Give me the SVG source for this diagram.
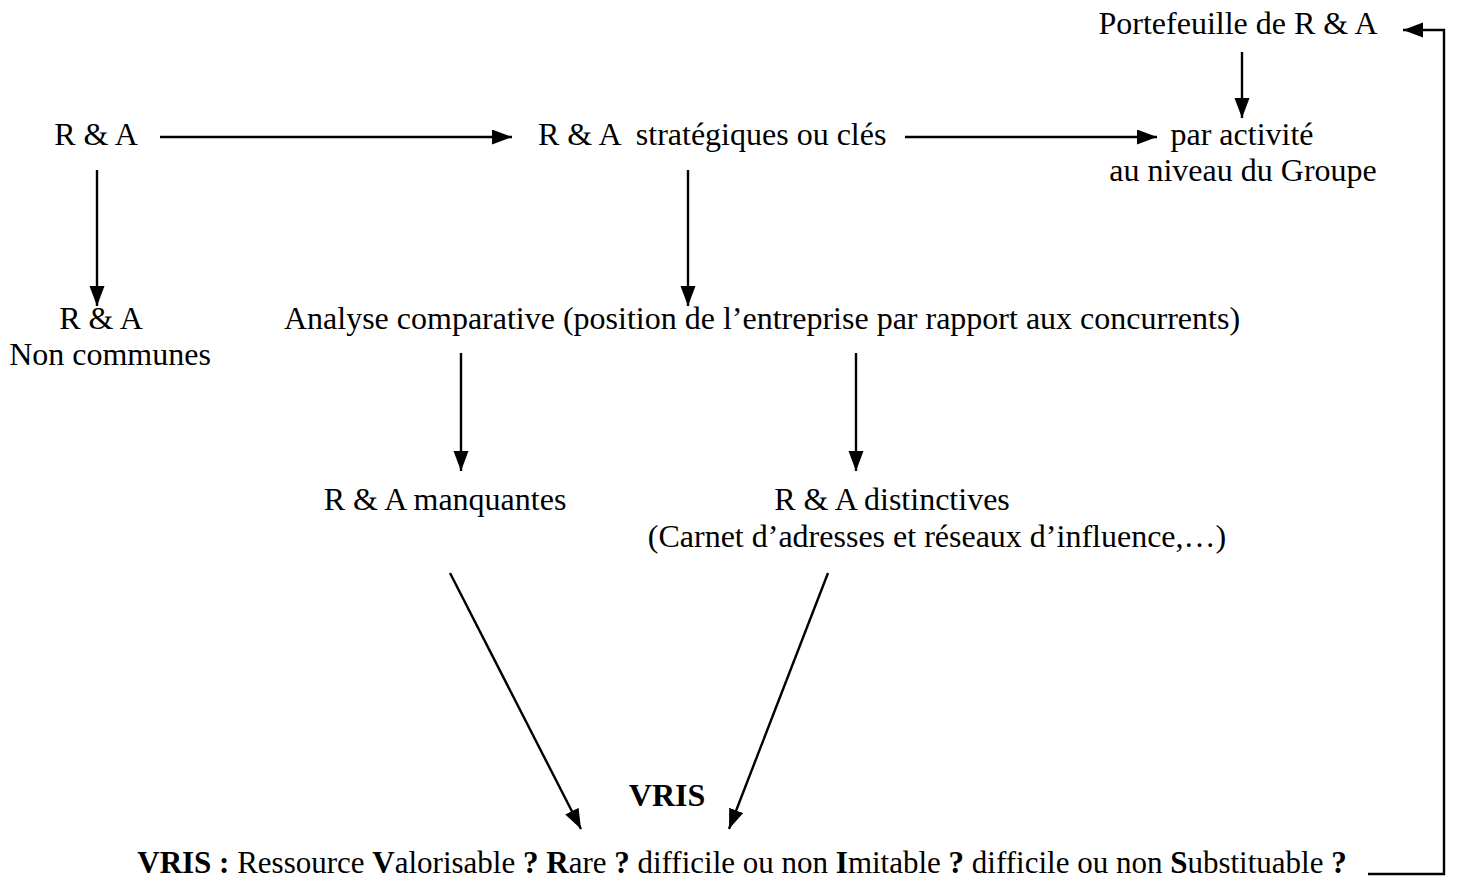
<svg xmlns="http://www.w3.org/2000/svg" width="1466" height="886" viewBox="0 0 1466 886">
  <style>
    text { font-family: "Liberation Serif", "Times New Roman", serif; font-size: 32px; fill: #000; white-space: pre; }
    .b { font-weight: bold; }
    .c { text-anchor: middle; }
    .legend { font-size: 31px; }
    .ln { stroke: #000; stroke-width: 2.4; fill: none; }
  </style>
  <defs>
    <marker id="head" markerUnits="userSpaceOnUse" markerWidth="22" markerHeight="16" refX="20" refY="7.5" orient="auto">
      <path d="M0,0 L20,7.5 L0,15 z" fill="#000"/>
    </marker>
  </defs>
  <rect width="1466" height="886" fill="#fff"/>

  <g id="portefeuille"><text x="1238" y="34" class="c">Portefeuille de R &amp; A</text></g>
  <g id="ra"><text x="96" y="145" class="c">R &amp; A</text></g>
  <g id="strategiques"><text x="538" y="145" xml:space="preserve">R &amp; A  stratégiques ou clés</text></g>
  <g id="activite">
    <text x="1242" y="145" class="c">par activité</text>
    <text x="1243" y="181" class="c">au niveau du Groupe</text>
  </g>
  <g id="non-communes">
    <text x="101" y="329" class="c">R &amp; A</text>
    <text x="110" y="365" class="c">Non communes</text>
  </g>
  <g id="analyse"><text x="762" y="329" class="c">Analyse comparative (position de l’entreprise par rapport aux concurrents)</text></g>
  <g id="manquantes"><text x="445" y="510" class="c">R &amp; A manquantes</text></g>
  <g id="distinctives">
    <text x="892" y="510" class="c">R &amp; A distinctives</text>
    <text x="937" y="547" class="c">(Carnet d’adresses et réseaux d’influence,…)</text>
  </g>
  <g id="vris"><text x="667" y="806" class="c b">VRIS</text></g>
  <g id="legende">
    <text x="742" y="873" class="c legend"><tspan class="b">VRIS :</tspan> Ressource <tspan class="b">V</tspan>alorisable <tspan class="b">?</tspan> <tspan class="b">R</tspan>are <tspan class="b">?</tspan> difficile ou non <tspan class="b">I</tspan>mitable <tspan class="b">?</tspan> difficile ou non <tspan class="b">S</tspan>ubstituable <tspan class="b">?</tspan></text>
  </g>

  <g id="connectors" class="ln">
    <line x1="160" y1="137" x2="512" y2="137" marker-end="url(#head)"/>
    <line x1="905" y1="137" x2="1157" y2="137" marker-end="url(#head)"/>
    <line x1="1242" y1="52" x2="1242" y2="118" marker-end="url(#head)"/>
    <line x1="97" y1="170" x2="97" y2="306" marker-end="url(#head)"/>
    <line x1="688" y1="170" x2="688" y2="306" marker-end="url(#head)"/>
    <line x1="461" y1="353" x2="461" y2="471" marker-end="url(#head)"/>
    <line x1="856" y1="353" x2="856" y2="471" marker-end="url(#head)"/>
    <line x1="450" y1="573" x2="581" y2="829" marker-end="url(#head)"/>
    <line x1="828" y1="573" x2="729" y2="829" marker-end="url(#head)"/>
    <polyline points="1368,874 1444,874 1444,30 1403,30" marker-end="url(#head)"/>
  </g>
</svg>
